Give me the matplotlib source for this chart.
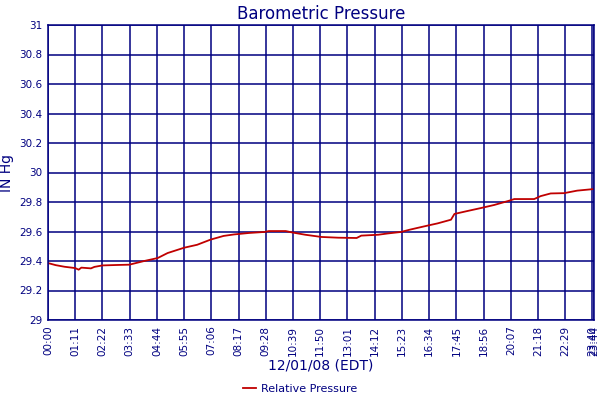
import numpy as np
import matplotlib
matplotlib.use("Agg")
import matplotlib.pyplot as plt

# minutes after midnight, pressure in inches of mercury
minutes = [0, 20, 43, 71, 80, 87, 112, 121, 142, 180, 212, 251, 286, 312, 355,
           389, 424, 458, 485, 524, 565, 576, 620, 636, 671, 713, 757, 805, 817,
           861, 887, 921, 943, 963, 990, 1016, 1051, 1060, 1094, 1129, 1164,
           1203, 1216, 1268, 1285, 1311, 1346, 1380, 1424]
pressure = [29.386, 29.372, 29.361, 29.352, 29.341, 29.355, 29.35, 29.36, 29.37,
            29.373, 29.375, 29.40, 29.42, 29.454, 29.49, 29.51, 29.545, 29.57,
            29.58, 29.59, 29.597, 29.603, 29.603, 29.594, 29.578, 29.563, 29.558,
            29.556, 29.572, 29.578, 29.587, 29.597, 29.612, 29.624, 29.64, 29.655,
            29.68, 29.719, 29.739, 29.759, 29.78, 29.809, 29.82, 29.82, 29.84,
            29.858, 29.86, 29.877, 29.888]

tick_min = list(range(0, 1421, 71)) + [1424]
tick_labels = ["%02d:%02d" % (m // 60, m % 60) for m in tick_min]
y_ticks = [29, 29.2, 29.4, 29.6, 29.8, 30, 30.2, 30.4, 30.6, 30.8, 31]
y_labels = ["29", "29.2", "29.4", "29.6", "29.8", "30", "30.2", "30.4", "30.6", "30.8", "31"]

navy = "#000080"

fig = plt.figure(figsize=(6, 4), dpi=100)
ax = fig.add_axes([0.08, 0.2, 0.91, 0.7375])

ax.plot(minutes, pressure, color="#c00000", lw=1.3, label="Relative Pressure")

ax.set_xlim(0, 1424)
ax.set_ylim(29, 31)
ax.set_xticks(tick_min)
ax.set_xticklabels(tick_labels, rotation=90, fontsize=7.5, color=navy)
ax.set_yticks(y_ticks)
ax.set_yticklabels(y_labels, fontsize=7.5, color=navy)
ax.tick_params(length=0, pad=4)
ax.grid(True, color=navy, lw=1.1)
ax.set_axisbelow(True)
for s in ax.spines.values():
    s.set_color(navy)
    s.set_linewidth(1.1)

ax.set_title("Barometric Pressure", color=navy, fontsize=12, pad=4)
ax.set_ylabel("IN Hg", color=navy, fontsize=10, labelpad=4)
ax.set_xlabel("12/01/08 (EDT)", color=navy, fontsize=10, labelpad=2)

leg = fig.legend(loc="lower center", bbox_to_anchor=(0.5, -0.01), frameon=False,
                 fontsize=8, handlelength=1.2, handletextpad=0.4)
for t in leg.get_texts():
    t.set_color(navy)

fig.savefig("out.png", dpi=100)
